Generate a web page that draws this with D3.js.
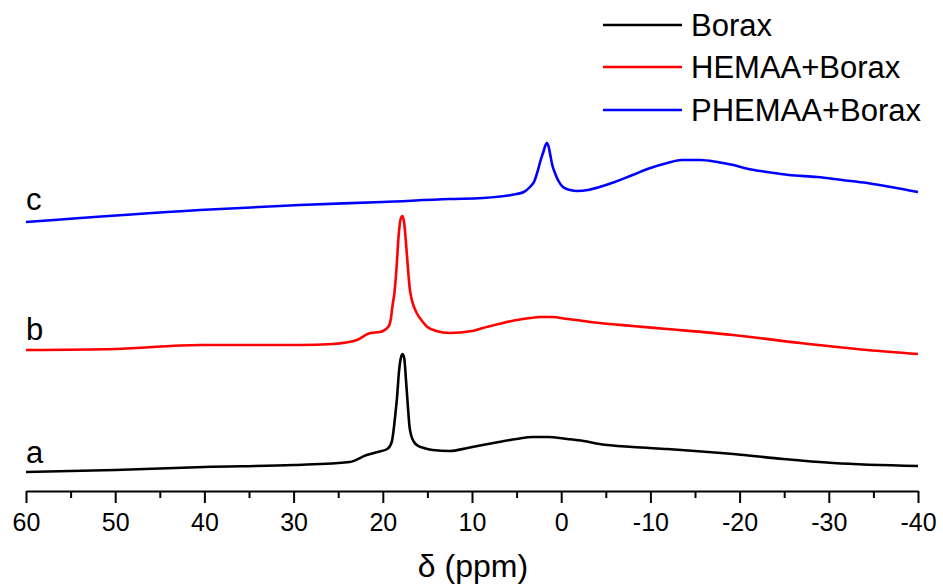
<!DOCTYPE html>
<html>
<head>
<meta charset="utf-8">
<script src="https://cdn.jsdelivr.net/npm/d3@7"></script>
<style>
  html, body { margin: 0; padding: 0; background: #fff; }
  svg { display: block; font-family: "Liberation Sans", Arial, sans-serif; }
</style>
</head>
<body>
<svg id="chart" width="943" height="586"></svg>
<script>
// 11B NMR spectra, chemical shift (ppm) and stacked intensity (a.u.)
const boraxShift = [60, 50, 40, 30, 23.7, 21.8, 20.6, 19.5, 19.0, 18.8, 18.6, 18.4, 18.2, 18.0, 17.8, 17.6, 17.4, 17.2, 17.0, 16.8, 16.5, 16.2, 15.4, 14.4, 12.5, 10.5, 8.8, 7.0, 5.0, 3.2, 1.5, -0.7, -2.5, -4.3, -8.0, -11.9, -19.3, -24.9, -30.5, -40];
const boraxInt   = [19, 21, 24, 26, 29, 36, 39, 42, 49, 60, 76, 94, 118, 132, 137, 133, 111, 86, 64, 55, 49, 46, 43, 41, 40, 43, 46, 49, 52, 54, 54, 52, 50, 47, 44, 42, 37, 32, 28, 25];

const hemaaShift = [60, 50, 40.5, 29.3, 25.6, 22.9, 21.4, 20.3, 19.4, 19.1, 18.9, 18.7, 18.5, 18.2, 18.0, 17.8, 17.6, 17.4, 17.2, 17.0, 16.8, 16.5, 16.2, 15.6, 15.0, 14.0, 12.5, 10.0, 8.8, 7.0, 5.0, 3.5, 2.4, 1.0, -0.7, -2.5, -4.3, -8.0, -11.9, -19.3, -26.8, -34.3, -40];
const hemaaInt   = [141, 142, 146, 146, 147, 151, 158, 159, 164, 172, 186, 198, 218, 258, 272, 275, 268, 248, 225, 204, 193, 184, 178, 170, 164, 160, 158, 160, 163, 167, 171, 173, 174, 174, 172, 170, 168, 165, 162, 156, 148, 141, 137];

const phemaaShift = [60, 40.5, 29.3, 20, 12.5, 8.8, 5.0, 4.2, 3.5, 3.0, 2.6, 2.3, 2.0, 1.8, 1.6, 1.4, 1.2, 1.0, 0.7, 0.3, -0.2, -1.0, -1.8, -3.0, -4.3, -6.0, -8.0, -10.0, -11.9, -13.5, -15.6, -17.5, -19.3, -21.0, -23.1, -25.5, -28.7, -31.5, -34.3, -37.0, -40];
const phemaaInt   = [269, 281, 286, 289, 292, 293, 297, 299, 304, 310, 321, 331, 339, 345, 348, 344, 335, 326, 318, 310, 304, 301, 300, 301, 304, 309, 316, 323, 328, 331, 331, 329, 326, 322, 319, 316, 314, 311, 308, 304, 299];

const seriesNames  = ["Borax", "HEMAA+Borax", "PHEMAA+Borax"];
const seriesTags   = ["a", "b", "c"];
const seriesColors = ["#000000", "#ff0000", "#0000ff"];

const majorTicks = [60, 50, 40, 30, 20, 10, 0, -10, -20, -30, -40];
const minorTicks = [55, 45, 35, 25, 15, 5, -5, -15, -25, -35];

const series = [
  { shift: boraxShift,  intensity: boraxInt },
  { shift: hemaaShift,  intensity: hemaaInt },
  { shift: phemaaShift, intensity: phemaaInt }
];

const svg = d3.select("#chart");
const axisY = 491;

const x = d3.scaleLinear().domain([60, -40]).range([26, 918]);
const y = d3.scaleLinear().domain([0, 491]).range([axisY, 0]);

const line = d3.line()
  .x(d => x(d[0]))
  .y(d => y(d[1]))
  .curve(d3.curveMonotoneX);

// spectra
series.forEach((s, i) => {
  const pts = s.shift.map((v, k) => [v, s.intensity[k]]);
  svg.append("path")
    .datum(pts)
    .attr("fill", "none")
    .attr("stroke", seriesColors[i])
    .attr("stroke-width", 2.6)
    .attr("stroke-linejoin", "round")
    .attr("d", line);
});

// trace tags a / b / c sitting just above each trace's left end
const tagBase = [463, 340, 210];
seriesTags.forEach((t, i) => {
  svg.append("text")
    .attr("x", 26)
    .attr("y", tagBase[i])
    .attr("font-size", 31)
    .attr("fill", "#000")
    .text(t);
});

// x axis: major ticks with labels, minor ticks without
const gMajor = svg.append("g")
  .attr("transform", `translate(0,${axisY})`)
  .call(d3.axisBottom(x).tickValues(majorTicks).tickSize(12).tickSizeOuter(0).tickPadding(10).tickFormat(d => String(d)));
gMajor.select(".domain").attr("stroke-width", 2);
gMajor.selectAll(".tick line").attr("stroke-width", 2);
gMajor.selectAll(".tick text")
  .attr("font-size", 25)
  .attr("font-family", "Liberation Sans, Arial, sans-serif")
  .attr("fill", "#000");

const gMinor = svg.append("g")
  .attr("transform", `translate(0,${axisY})`)
  .call(d3.axisBottom(x).tickValues(minorTicks).tickSize(7).tickFormat(""));
gMinor.select(".domain").remove();
gMinor.selectAll(".tick line").attr("stroke-width", 2);

// axis title
svg.append("text")
  .attr("x", 473)
  .attr("y", 577)
  .attr("text-anchor", "middle")
  .attr("font-size", 32)
  .attr("fill", "#000")
  .text("δ (ppm)");

// legend
const legendY = [25, 67, 110];
seriesNames.forEach((name, i) => {
  const g = svg.append("g").attr("transform", `translate(603,${legendY[i]})`);
  g.append("line")
    .attr("x1", 0).attr("x2", 79)
    .attr("y1", 0).attr("y2", 0)
    .attr("stroke", seriesColors[i])
    .attr("stroke-width", 2.6);
  g.append("text")
    .attr("x", 88)
    .attr("y", 11)
    .attr("font-size", 31)
    .attr("fill", "#000")
    .text(name);
});
</script>
</body>
</html>
